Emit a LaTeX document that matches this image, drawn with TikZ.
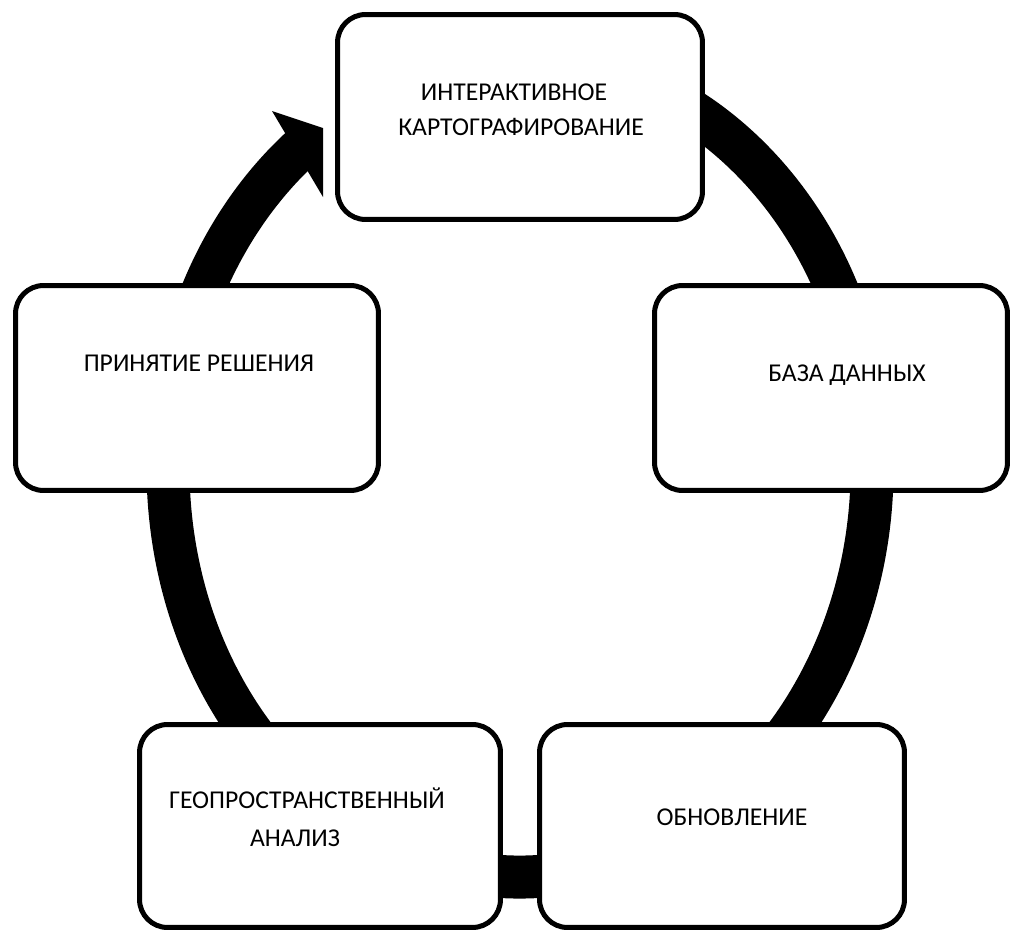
\documentclass[tikz,border=0pt]{standalone}
\usepackage{fontspec}
\setmainfont{Carlito}
\begin{document}
\begin{tikzpicture}[x=0.02cm,y=0.02cm,
  box/.style={draw=black, line width=0.1cm, rounded corners=0.56cm, fill=white, inner sep=0pt},
  lbl/.style={inner sep=0pt, anchor=base, font=\fontsize{14.6}{17.5}\selectfont},
  ring/.style={line width=0.86cm, draw=black}]
\useasboundingbox (0,0) rectangle (1012,-933);
% cycle ring (ellipse centre (520,-468), radii 352 x 409)
\coordinate (ringstart) at (458.9,-65.2);
\draw[ring] (ringstart) arc[start angle=100, end angle=-232, x radius=352, y radius=409];
% arrow head (clipped near the top box)
\fill[black] (272,-111) -- (323,-128) -- (323,-197) -- cycle;
% boxes
\node[box, minimum width=7.3cm, minimum height=4.1cm] (top) at (520,-117) {};
\node[box, minimum width=7.06cm, minimum height=4.1cm] (right) at (831,-388) {};
\node[box, minimum width=7.3cm, minimum height=4.06cm] (br) at (722,-826) {};
\node[box, minimum width=7.22cm, minimum height=4.06cm] (bl) at (320,-826) {};
\node[box, minimum width=7.26cm, minimum height=4.1cm] (left) at (197,-388) {};
% labels
\node[lbl] (t1) at (514,-100) {ИНТЕРАКТИВНОЕ};
\node[lbl] (t2) at (521,-135) {КАРТОГРАФИРОВАНИЕ};
\node[lbl] (r1) at (847,-381) {БАЗА ДАННЫХ};
\node[lbl] (br1) at (732,-825) {ОБНОВЛЕНИЕ};
\node[lbl] (bl1) at (307,-808) {ГЕОПРОСТРАНСТВЕННЫЙ};
\node[lbl] (bl2) at (295,-846) {АНАЛИЗ};
\node[lbl] (l1) at (199,-371) {ПРИНЯТИЕ РЕШЕНИЯ};
\end{tikzpicture}
\end{document}
